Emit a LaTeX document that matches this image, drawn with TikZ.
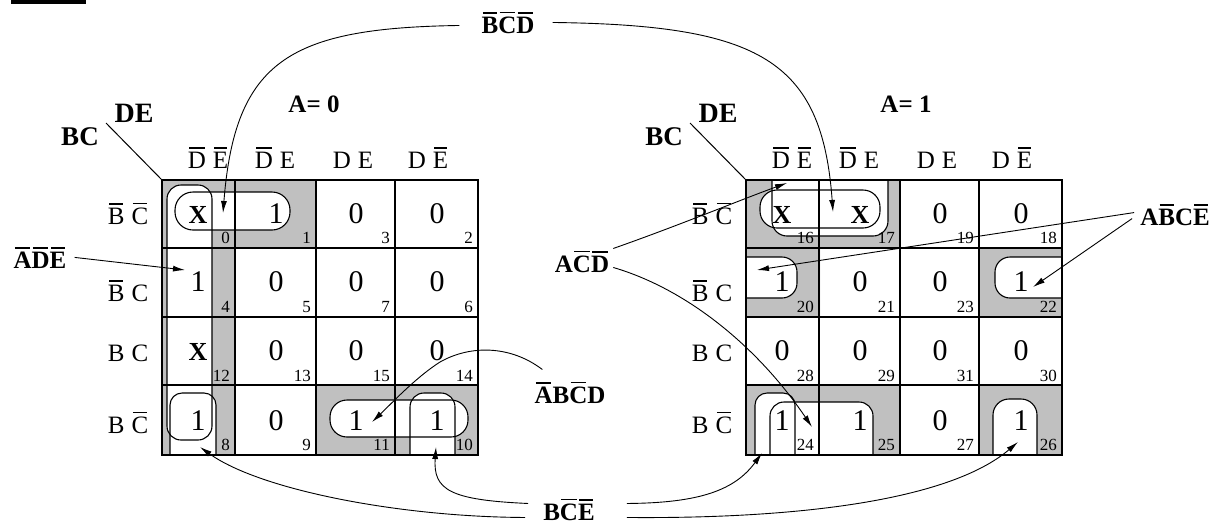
\documentclass[tikz,border=0pt]{standalone}
\usepackage{fontspec}
\setmainfont{Liberation Serif}
\usetikzlibrary{arrows.meta}

\definecolor{cellgray}{RGB}{192,192,192}
\newcommand\ob[1]{\leavevmode\setbox0\hbox{#1}\hbox{\rlap{\kern.05em\vrule height\dimexpr\ht0+.19em\relax depth-\dimexpr\ht0+.12em\relax width\dimexpr\wd0-.1em\relax}\box0}}
\newcommand\vk{\kern7pt}
\newcommand\dc{{\fontsize{26}{26}\selectfont\bfseries X}}

\begin{document}
\begin{tikzpicture}[x=1pt,y=-1pt,
  cellval/.style={anchor=base,inner sep=0pt,font=\fontsize{30}{30}\selectfont},
  cellidx/.style={anchor=base east,inner sep=0pt,font=\fontsize{17}{17}\selectfont},
  varname/.style={anchor=base,inner sep=0pt,font=\fontsize{25}{25}\selectfont},
  term/.style={anchor=base,inner sep=0pt,font=\fontsize{25}{25}\selectfont\bfseries},
  gridline/.style={line width=1.8pt},
  loopline/.style={line width=1.1pt},
  pointer/.style={line width=0.9pt,-{Latex[length=12pt,width=6pt]}}]
  \useasboundingbox (0,0) rectangle (1217,523);
  \fill (11,0) rectangle (86,4);

  \fill[cellgray] (162,180) rectangle (316,248) (162,248) rectangle (235,455)
    (316,385) rectangle (478,455);
  \fill[cellgray] (746,180) rectangle (900,248) (746,248) rectangle (820,317)
    (978,248) rectangle (1062,317) (746,385) rectangle (900,455)
    (978,385) rectangle (1062,455);

  \foreach \rad/\p in {14/{(167,185) rectangle (212,440)},
      18/{(175,192) rectangle (290,230)},
      12/{(170,455) -- (170,393) -- (216,393) -- (216,455)},
      17/{(330,400) rectangle (468,437)},
      14/{(410,455) -- (410,393) -- (455,393) -- (455,455)},
      17/{(760,190) rectangle (880,228)},
      15/{(772,180) -- (772,236) -- (888,236) -- (888,180)},
      15/{(746,257) -- (797,257) -- (797,298) -- (746,298)},
      15/{(1062,257) -- (995,257) -- (995,298) -- (1062,298)},
      12/{(755,455) -- (755,393) -- (795,393) -- (795,455)},
      14/{(770,455) -- (770,402) -- (873,402) -- (873,455)},
      16/{(993,455) -- (993,399) -- (1037,399) -- (1037,455)}}
    \fill[white,rounded corners=\rad] \p;
  \foreach \rad/\p in {14/{(167,185) rectangle (212,440)},
      18/{(175,192) rectangle (290,230)},
      12/{(170,455) -- (170,393) -- (216,393) -- (216,455)},
      17/{(330,400) rectangle (468,437)},
      14/{(410,455) -- (410,393) -- (455,393) -- (455,455)},
      17/{(760,190) rectangle (880,228)},
      15/{(772,180) -- (772,236) -- (888,236) -- (888,180)},
      15/{(746,257) -- (797,257) -- (797,298) -- (746,298)},
      15/{(1062,257) -- (995,257) -- (995,298) -- (1062,298)},
      12/{(755,455) -- (755,393) -- (795,393) -- (795,455)},
      14/{(770,455) -- (770,402) -- (873,402) -- (873,455)},
      16/{(993,455) -- (993,399) -- (1037,399) -- (1037,455)}}
    \draw[loopline,rounded corners=\rad] \p;

  \foreach \dx/\m in {0/l,584/r} {
    \draw[gridline] (162+\dx,180) rectangle (478+\dx,455);
    \foreach \x in {235,316,395} \draw[gridline] (\x+\dx,180) -- (\x+\dx,455);
    \foreach \y in {248,317,385} \draw[gridline] (162+\dx,\y) -- (478+\dx,\y);
    \draw[line width=1pt] (106+\dx,123) -- (162+\dx,180);
    \node[term,font=\fontsize{27}{27}\selectfont\bfseries] (\m-bc) at (80+\dx,145) {BC};
    \node[term,font=\fontsize{28}{28}\selectfont\bfseries] (\m-de) at (134+\dx,122) {DE};
    \node[varname] (\m-c0) at (208+\dx,168) {\ob{D}\vk\ob{E}};
    \node[varname] (\m-c1) at (275+\dx,168) {\ob{D}\vk E};
    \node[varname] (\m-c2) at (353+\dx,168) {D\vk E};
    \node[varname] (\m-c3) at (428+\dx,168) {D\vk\ob{E}};
    \node[varname] (\m-r0) at (128+\dx,224) {\ob{B}\vk\ob{C}};
    \node[varname] (\m-r1) at (128+\dx,301) {\ob{B}\vk C};
    \node[varname] (\m-r2) at (128+\dx,361) {B\vk C};
    \node[varname] (\m-r3) at (128+\dx,433) {B\vk\ob{C}};
  }
  \node[term] (a0) at (314,112) {A= 0};
  \node[term] (a1) at (906,112) {A= 1};

  \foreach \dx/\y/\yi/\va/\vb/\vc/\vd/\pa/\pb/\pc/\pd in {
      0/223/243/\dc/1/0/0/0/1/3/2,
      0/291/312/1/0/0/0/4/5/7/6,
      0/360/381/\dc/0/0/0/12/13/15/14,
      0/430/450/1/0/1/1/8/9/11/10,
      584/223/243/\dc/\dc/0/0/16/17/19/18,
      584/291/312/1/0/0/1/20/21/23/22,
      584/360/381/0/0/0/0/28/29/31/30,
      584/430/450/1/1/0/1/24/25/27/26} {
    \node[cellval] (v\pa) at (198+\dx,\y) {\va};
    \node[cellval] (v\pb) at (276+\dx,\y) {\vb};
    \node[cellval] (v\pc) at (356+\dx,\y) {\vc};
    \node[cellval] (v\pd) at (437+\dx,\y) {\vd};
    \node[cellidx] (i\pa) at (230+\dx,\yi) {\pa};
    \node[cellidx] (i\pb) at (311+\dx,\yi) {\pb};
    \node[cellidx] (i\pc) at (390+\dx,\yi) {\pc};
    \node[cellidx] (i\pd) at (473+\dx,\yi) {\pd};
  }

  \node[term] (bcd) at (508,33) {\ob{B}\ob{C}\ob{D}};
  \node[term] (ade) at (40,268) {\ob{A}\ob{D}\ob{E}};
  \node[term] (acd) at (582,272) {A\ob{C}\ob{D}};
  \node[term] (abce) at (1175,225) {A\ob{B}C\ob{E}};
  \node[term] (abcd) at (570,403) {\ob{A}B\ob{C}D};
  \node[term] (bce) at (569,520) {B\ob{C}\ob{E}};

  \coordinate (t0) at (223,213);
  \coordinate (t17) at (833,212);
  \coordinate (t4) at (185,270);
  \coordinate (t16) at (787,183);
  \coordinate (t24) at (812,427);
  \coordinate (t20) at (757,270);
  \coordinate (t22) at (1033,287);
  \coordinate (t11) at (372,422);
  \coordinate (t8) at (200,447);
  \coordinate (t10) at (436,447);
  \coordinate (t24b) at (762,453);
  \coordinate (t26) at (1018,442);

  \draw[pointer] ([shift={(-22pt,-3pt)}]bcd.west) .. controls (290,28) and (235,60) .. (t0);
  \draw[pointer] ([xshift=18pt]bcd.east) .. controls (760,25) and (822,60) .. (t17);
  \draw[pointer] ([xshift=8pt]ade.east) -- (t4);
  \draw[pointer] ([shift={(4pt,13pt)}]acd.east) .. controls (680,225) and (740,200) .. (t16);
  \draw[pointer] ([shift={(4pt,-6pt)}]acd.east) .. controls (690,290) and (760,350) .. (t24);
  \draw[pointer] ([shift={(-6pt,2pt)}]abce.west) -- (t20);
  \draw[pointer] ([shift={(-8pt,-4pt)}]abce.west) -- (t22);
  \draw[pointer] ([shift={(8pt,12pt)}]abcd.north west) .. controls (510,345) and (470,345) .. (440,362)
    .. controls (415,378) and (390,405) .. (t11);
  \draw[pointer] ([shift={(-18pt,-8pt)}]bce.west) .. controls (400,517) and (260,490) .. (t8);
  \draw[pointer] ([shift={(-15pt,6pt)}]bce.west) .. controls (450,500) and (433,490) .. (t10);
  \draw[pointer] ([shift={(32pt,6pt)}]bce.east) .. controls (700,503) and (735,490) .. (t24b);
  \draw[pointer] ([shift={(32pt,-8pt)}]bce.east) .. controls (800,519) and (950,500) .. (t26);
\end{tikzpicture}
\end{document}
